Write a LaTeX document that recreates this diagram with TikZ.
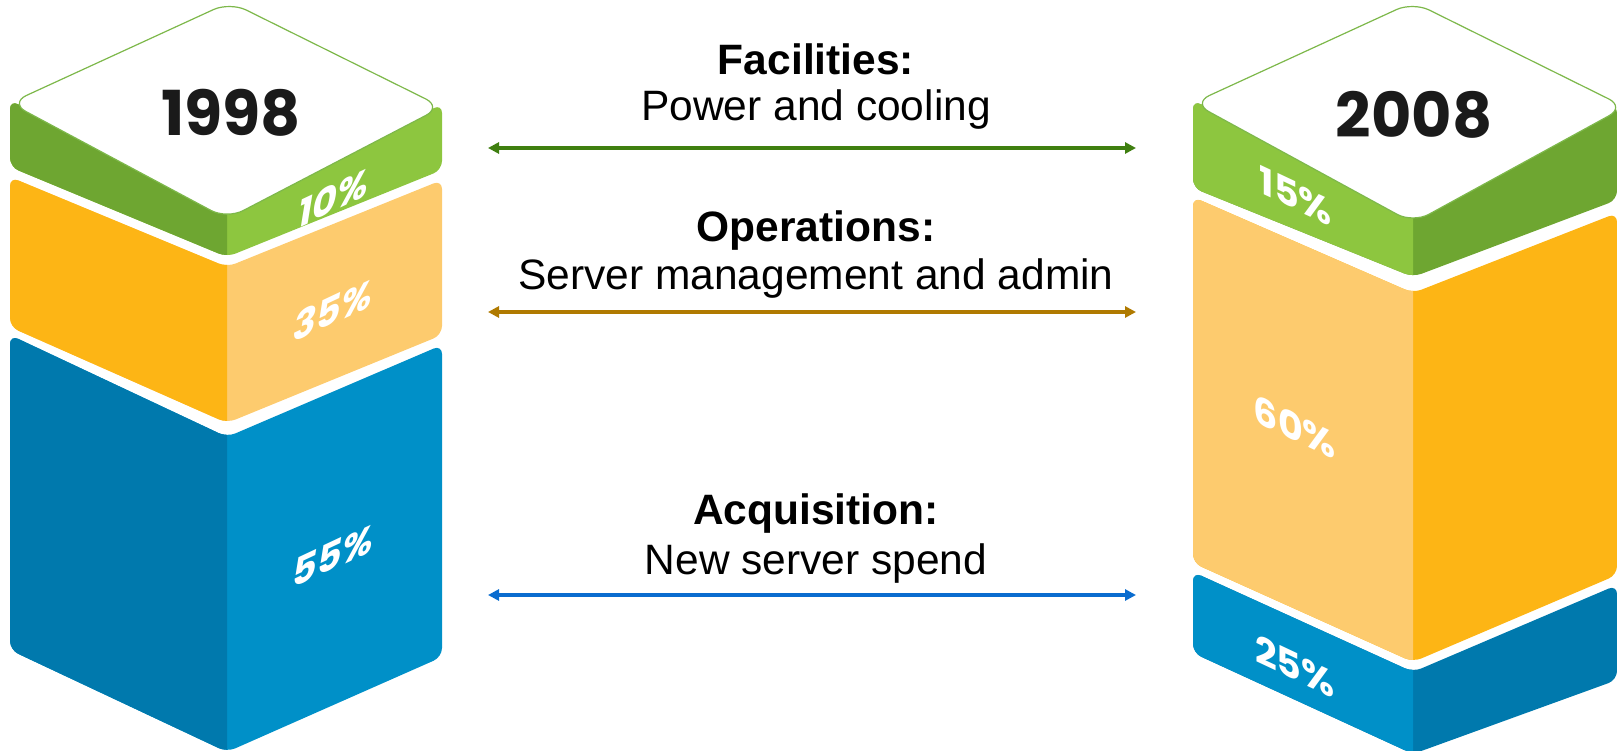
\documentclass[tikz,border=0pt]{standalone}
\usepackage{fontspec}
\setmainfont{Liberation Sans}
\newfontfamily\geofont{Poppins}
\usetikzlibrary{arrows.meta}

\definecolor{grnlt}{HTML}{8DC63F}
\definecolor{grndk}{HTML}{6EA631}
\definecolor{grnline}{HTML}{7DB84A}
\definecolor{orgsat}{HTML}{FDB515}
\definecolor{orgpale}{HTML}{FDCB6E}
\definecolor{blult}{HTML}{0090C8}
\definecolor{bludk}{HTML}{0079AD}
\definecolor{arrgrn}{HTML}{3F7F10}
\definecolor{arrbrn}{HTML}{B07A00}
\definecolor{arrblu}{HTML}{0A6CCF}
\definecolor{yearink}{HTML}{1A1A1A}

% One band of a stack: top edge (left, centre, right), bottom edge
% (left, centre, right), colour of the left face, colour of the right face.
% The stack's x positions come from \xl, \xc and \xr.
\newcommand\stackband[8]{%
  \fill[#8, rounded corners=9pt]
    (\xl,#1) -- (\xc,#2) -- (\xr,#3) -- (\xr,#6) -- (\xc,#5) -- (\xl,#4) -- cycle;
  \begin{scope}
    \clip (\xl-30,-30) rectangle (\xc,800);
    \fill[#7, rounded corners=9pt]
      (\xl,#1) -- (\xc,#2) -- (\xr,#3) -- (\xr,#6) -- (\xc,#5) -- (\xl,#4) -- cycle;
  \end{scope}
}

\begin{document}
\begin{tikzpicture}[x=1pt,y=-1pt,
  lbl/.style={anchor=base, inner sep=0pt, font=\fontsize{42.5}{42.5}\selectfont},
  lblb/.style={anchor=base, inner sep=0pt, font=\fontsize{42.5}{42.5}\selectfont\bfseries},
  conn/.style={line width=3.3pt,
    {Triangle[length=11pt,width=11pt]}-{Triangle[length=11pt,width=11pt]}},
  year/.style={inner sep=0pt, text=yearink,
    font=\geofont\bfseries\fontsize{62}{62}\selectfont},
  pct/.style={inner sep=0pt, text=white,
    font=\geofont\bfseries\fontsize{38}{38}\selectfont},
  topface/.style={fill=white, draw=grnline, line width=1.2pt, rounded corners=18pt}]

\useasboundingbox (0,0) rectangle (1617,751);
\clip (0,0) rectangle (1617,751);

% ---------- 1998 stack ----------
\def\xl{10}\def\xc{227}\def\xr{442}
\stackband{335}{437}{345}{650}{752}{657}{bludk}{blult}
\stackband{177}{267}{180}{327}{423}{335}{orgsat}{orgpale}
\stackband{100}{213}{104}{167}{257}{170}{grndk}{grnlt}
\draw[topface] (230,2) -- (442,107) -- (227,219) -- (10,103) -- cycle;
\node[year] (y1998) at (231,113) {1998};
\node[pct, yslant=0.47] (p10) at (333,198) {\itshape 10\%};
\node[pct, yslant=0.47] (p35) at (333,310) {\itshape 35\%};
\node[pct, yslant=0.47] (p55) at (333,556) {\itshape 55\%};

% ---------- 2008 stack ----------
\def\xl{1193}\def\xc{1413}\def\xr{1617}
\stackband{572}{672}{585}{653}{754}{680}{blult}{bludk}
\stackband{197}{293}{213}{563}{662}{575}{orgpale}{orgsat}
\stackband{100}{217}{104}{188}{277}{200}{grnlt}{grndk}
\draw[topface] (1413,2) -- (1625,107) -- (1413,223) -- (1193,103) -- cycle;
\node[year] (y2008) at (1414,115) {2008};
\node[pct, yslant=-0.47] (p15) at (1296,196) {15\%};
\node[pct, yslant=-0.47] (p60) at (1295,427) {60\%};
\node[pct, yslant=-0.47] (p25) at (1295,666) {25\%};

% ---------- cost categories ----------
\node[lblb] (facT) at (816,75) {Facilities:};
\node[lbl]  (facS) at (816,121) {Power and cooling};
\node[lblb] (opsT) at (816,242) {Operations:};
\node[lbl]  (opsS) at (816,290) {Server management and admin};
\node[lblb] (acqT) at (816,524) {Acquisition:};
\node[lbl]  (acqS) at (816,574) {New server spend};

\coordinate (fa1) at (488,148);  \coordinate (fa2) at (1136,148);
\coordinate (op1) at (488,312);  \coordinate (op2) at (1136,312);
\coordinate (aq1) at (488,595);  \coordinate (aq2) at (1136,595);
\draw[conn, arrgrn] (fa1) -- (fa2);
\draw[conn, arrbrn] (op1) -- (op2);
\draw[conn, arrblu] (aq1) -- (aq2);
\end{tikzpicture}
\end{document}
